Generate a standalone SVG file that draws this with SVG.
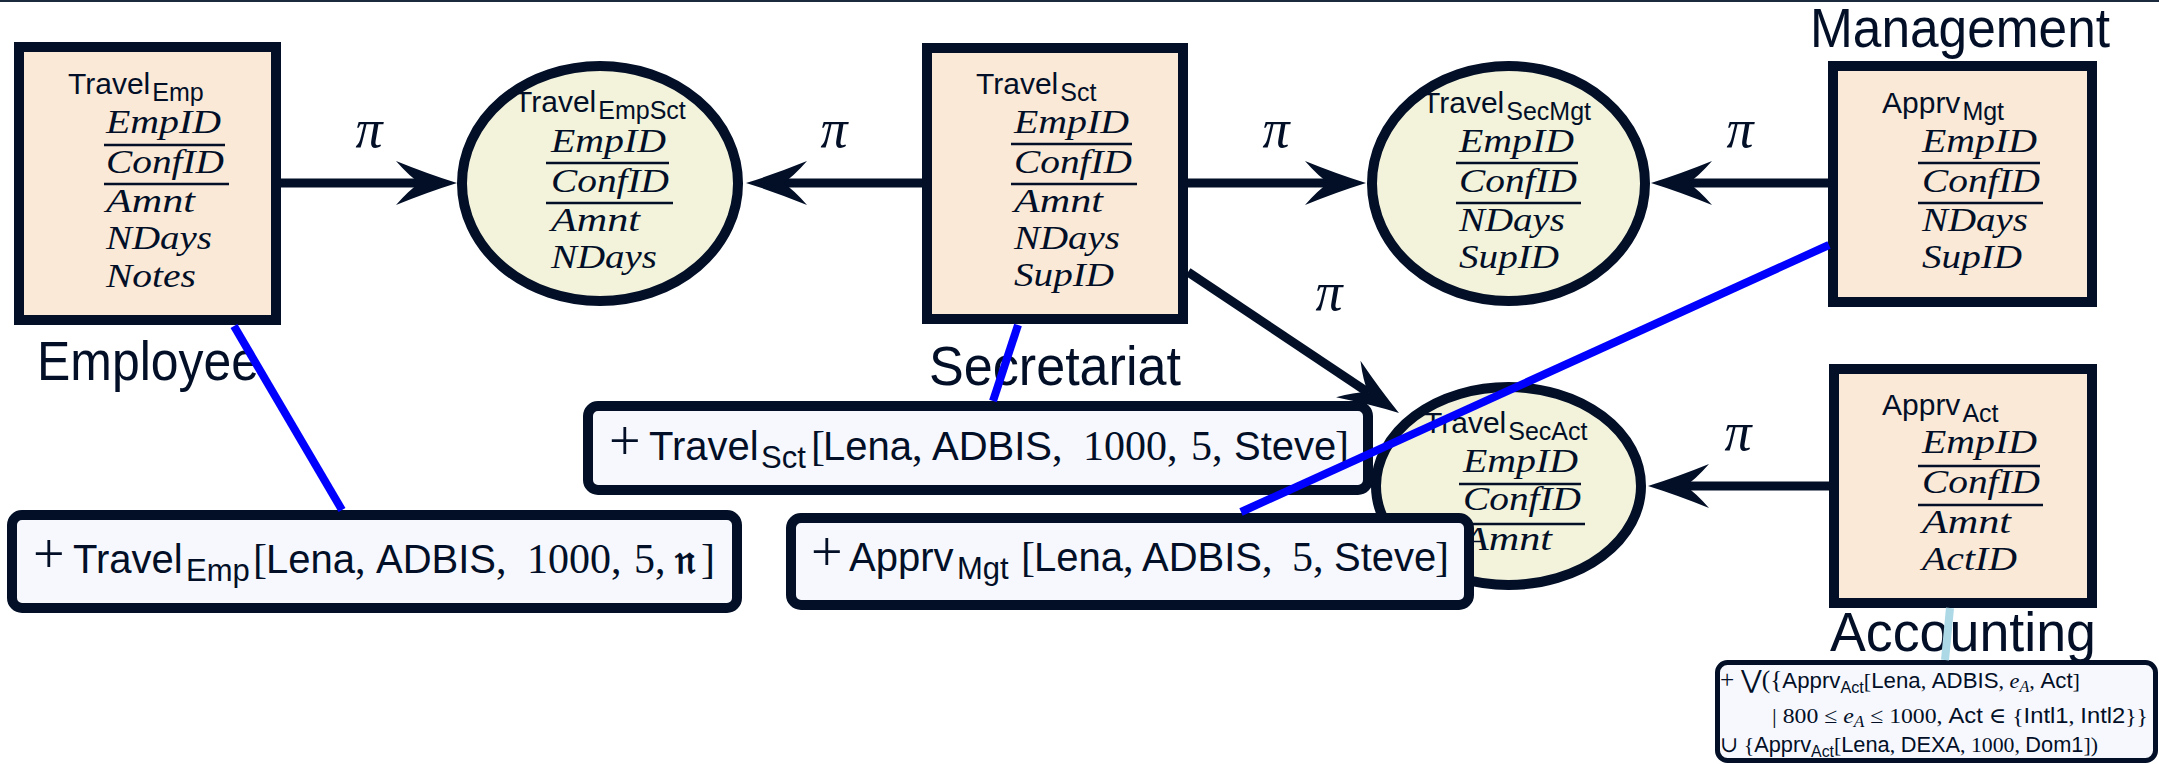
<svg xmlns="http://www.w3.org/2000/svg" width="2159" height="764" viewBox="0 0 2159 764">
<style>
text{fill:#020f27}
.ttl{font-family:"Liberation Sans",Arial,sans-serif;font-size:30px}
.sub{font-size:25px}
.att{font-family:"Liberation Serif","Times New Roman",serif;font-style:italic;font-size:33px}
.lbl{font-family:"Liberation Sans",Arial,sans-serif;font-size:55px}
.pi{font-family:"Liberation Serif","DejaVu Serif",serif;font-style:italic;font-size:54px;text-anchor:middle}
.fact{font-family:"Liberation Sans",Arial,sans-serif;font-size:40px}
.fsub{font-size:31px}
.m{font-family:"Liberation Serif","DejaVu Serif",serif;font-style:normal}
.fm{font-family:"Liberation Serif","DejaVu Serif",serif;font-size:42px}
.plus{font-family:"Liberation Serif","DejaVu Serif",serif;font-size:56px}
.frak{font-family:"DejaVu Serif","DejaVu Sans","Noto Sans",serif;font-weight:bold;font-size:40px}
.fx{font-family:"Liberation Sans",Arial,sans-serif;font-size:22px}
.fxs{font-size:16px}
.mi{font-family:"Liberation Serif","DejaVu Serif",serif;font-style:italic}
.box{fill:#fae9d7;stroke:#020f27;stroke-width:10}
.ell{fill:#f3f3dc;stroke:#020f27;stroke-width:10}
.fbox{fill:#f7f8fd;stroke:#020f27;stroke-width:10}
.ul{stroke:#020f27;stroke-width:2.5}
.arr{stroke:#020f27;stroke-width:9;fill:none;marker-end:url(#ah)}
.blue{stroke:#0000ff;stroke-width:8}
.lblue{stroke:#add8e6;stroke-width:8}
</style>
<defs>
<marker id="ah" markerUnits="userSpaceOnUse" viewBox="-30 -30 72 60" markerWidth="72" markerHeight="60" refX="0" refY="0" orient="auto" overflow="visible">
<path d="M37,0 Q8,-9 -24,-22 Q-10,-6 0,0 Q-10,6 -24,22 Q8,9 37,0 Z" fill="#020f27"/>
</marker>
</defs>
<rect x="0" y="0" width="2159" height="2" fill="#1b2b3d"/>

<g id="travel-emp">
<rect class="box" x="19" y="47" width="257" height="273"/>
<text class="ttl" x="68" y="94">Travel<tspan class="sub" dx="2" dy="7">Emp</tspan></text>
<text class="att" x="106" y="133" textLength="115" lengthAdjust="spacingAndGlyphs">EmpID</text>
<line class="ul" x1="104" y1="145" x2="225" y2="145"/>
<text class="att" x="106" y="173" textLength="118" lengthAdjust="spacingAndGlyphs">ConfID</text>
<line class="ul" x1="104" y1="184" x2="229" y2="184"/>
<text class="att" x="106" y="212" textLength="89" lengthAdjust="spacingAndGlyphs">Amnt</text>
<text class="att" x="106" y="249" textLength="106" lengthAdjust="spacingAndGlyphs">NDays</text>
<text class="att" x="106" y="287" textLength="90" lengthAdjust="spacingAndGlyphs">Notes</text>
<text class="lbl" x="37" y="380" textLength="222" lengthAdjust="spacingAndGlyphs">Employee</text>
</g>

<g id="travel-empsct">
<ellipse class="ell" cx="600" cy="183.5" rx="138" ry="117.5"/>
<text class="ttl" x="514" y="112">Travel<tspan class="sub" dx="2" dy="7">EmpSct</tspan></text>
<text class="att" x="551" y="152" textLength="115" lengthAdjust="spacingAndGlyphs">EmpID</text>
<line class="ul" x1="546" y1="163" x2="669" y2="163"/>
<text class="att" x="551" y="192" textLength="118" lengthAdjust="spacingAndGlyphs">ConfID</text>
<line class="ul" x1="546" y1="203" x2="673" y2="203"/>
<text class="att" x="551" y="231" textLength="89" lengthAdjust="spacingAndGlyphs">Amnt</text>
<text class="att" x="551" y="268" textLength="106" lengthAdjust="spacingAndGlyphs">NDays</text>
</g>

<g id="travel-sct">
<rect class="box" x="927" y="48" width="256" height="271"/>
<text class="ttl" x="976" y="94">Travel<tspan class="sub" dx="2" dy="7">Sct</tspan></text>
<text class="att" x="1014" y="133" textLength="115" lengthAdjust="spacingAndGlyphs">EmpID</text>
<line class="ul" x1="1011" y1="144" x2="1132" y2="144"/>
<text class="att" x="1014" y="173" textLength="118" lengthAdjust="spacingAndGlyphs">ConfID</text>
<line class="ul" x1="1011" y1="184" x2="1137" y2="184"/>
<text class="att" x="1014" y="212" textLength="89" lengthAdjust="spacingAndGlyphs">Amnt</text>
<text class="att" x="1014" y="249" textLength="106" lengthAdjust="spacingAndGlyphs">NDays</text>
<text class="att" x="1014" y="286" textLength="100" lengthAdjust="spacingAndGlyphs">SupID</text>
<text class="lbl" x="929" y="385" textLength="252" lengthAdjust="spacingAndGlyphs">Secretariat</text>
</g>

<g id="travel-secmgt">
<ellipse class="ell" cx="1508.5" cy="183.5" rx="136.5" ry="117.5"/>
<text class="ttl" x="1422" y="113">Travel<tspan class="sub" dx="2" dy="7">SecMgt</tspan></text>
<text class="att" x="1459" y="152" textLength="115" lengthAdjust="spacingAndGlyphs">EmpID</text>
<line class="ul" x1="1456" y1="163" x2="1578" y2="163"/>
<text class="att" x="1459" y="192" textLength="118" lengthAdjust="spacingAndGlyphs">ConfID</text>
<line class="ul" x1="1456" y1="203" x2="1581" y2="203"/>
<text class="att" x="1459" y="231" textLength="106" lengthAdjust="spacingAndGlyphs">NDays</text>
<text class="att" x="1459" y="268" textLength="100" lengthAdjust="spacingAndGlyphs">SupID</text>
</g>

<g id="apprv-mgt">
<rect class="box" x="1833" y="66" width="259" height="236"/>
<text class="ttl" x="1882" y="113">Apprv<tspan class="sub" dx="2" dy="7">Mgt</tspan></text>
<text class="att" x="1922" y="152" textLength="115" lengthAdjust="spacingAndGlyphs">EmpID</text>
<line class="ul" x1="1918" y1="163" x2="2040" y2="163"/>
<text class="att" x="1922" y="192" textLength="118" lengthAdjust="spacingAndGlyphs">ConfID</text>
<line class="ul" x1="1918" y1="203" x2="2043" y2="203"/>
<text class="att" x="1922" y="231" textLength="106" lengthAdjust="spacingAndGlyphs">NDays</text>
<text class="att" x="1922" y="268" textLength="100" lengthAdjust="spacingAndGlyphs">SupID</text>
<text class="lbl" x="1810" y="47" textLength="300" lengthAdjust="spacingAndGlyphs">Management</text>
</g>

<g id="travel-secact">
<ellipse class="ell" cx="1508.5" cy="486" rx="132.5" ry="99"/>
<text class="ttl" x="1424" y="433">Travel<tspan class="sub" dx="2" dy="7">SecAct</tspan></text>
<text class="att" x="1463" y="472" textLength="115" lengthAdjust="spacingAndGlyphs">EmpID</text>
<line class="ul" x1="1459" y1="484" x2="1581" y2="484"/>
<text class="att" x="1463" y="510" textLength="118" lengthAdjust="spacingAndGlyphs">ConfID</text>
<line class="ul" x1="1459" y1="524" x2="1585" y2="524"/>
<text class="att" x="1463" y="550" textLength="89" lengthAdjust="spacingAndGlyphs">Amnt</text>
</g>

<g id="apprv-act">
<rect class="box" x="1834" y="369" width="258" height="234"/>
<text class="ttl" x="1882" y="415">Apprv<tspan class="sub" dx="2" dy="7">Act</tspan></text>
<text class="att" x="1922" y="453" textLength="115" lengthAdjust="spacingAndGlyphs">EmpID</text>
<line class="ul" x1="1918" y1="466" x2="2040" y2="466"/>
<text class="att" x="1922" y="493" textLength="118" lengthAdjust="spacingAndGlyphs">ConfID</text>
<line class="ul" x1="1918" y1="505" x2="2043" y2="505"/>
<text class="att" x="1922" y="533" textLength="89" lengthAdjust="spacingAndGlyphs">Amnt</text>
<text class="att" x="1922" y="570" textLength="95" lengthAdjust="spacingAndGlyphs">ActID</text>
<text class="lbl" x="1830" y="651" textLength="266" lengthAdjust="spacingAndGlyphs">Accounting</text>
</g>

<g id="fact-travel-emp">
<rect class="fbox" x="12" y="515" width="725" height="93" rx="10"/>
<text class="fact" y="573"><tspan class="plus" x="33">+</tspan><tspan x="73">Travel</tspan><tspan class="fsub" x="186" dy="8">Emp</tspan><tspan class="fm" x="253" dy="-8">[</tspan><tspan x="266">Lena</tspan><tspan class="fm">,</tspan><tspan x="376">ADBIS</tspan><tspan class="fm">,</tspan><tspan class="fm" x="527">1000,</tspan><tspan class="fm" x="634">5,</tspan><tspan class="frak" x="675">𝔫</tspan><tspan class="fm" x="701">]</tspan></text>
</g>

<g id="fact-travel-sct">
<rect class="fbox" x="588" y="406" width="780" height="84" rx="10"/>
<text class="fact" y="460"><tspan class="plus" x="609">+</tspan><tspan x="649">Travel</tspan><tspan class="fsub" x="761" dy="8">Sct</tspan><tspan class="fm" x="811" dy="-8">[</tspan><tspan x="823">Lena</tspan><tspan class="fm">,</tspan><tspan x="932">ADBIS</tspan><tspan class="fm">,</tspan><tspan class="fm" x="1083">1000,</tspan><tspan class="fm" x="1191">5,</tspan><tspan x="1234">Steve</tspan><tspan class="fm" x="1335">]</tspan></text>
</g>

<g id="fact-apprv-mgt">
<rect class="fbox" x="791" y="518" width="678" height="87" rx="10"/>
<text class="fact" y="571"><tspan class="plus" x="811">+</tspan><tspan x="849">Apprv</tspan><tspan class="fsub" x="957" dy="8">Mgt</tspan><tspan class="fm" x="1021" dy="-8">[</tspan><tspan x="1034">Lena</tspan><tspan class="fm">,</tspan><tspan x="1142">ADBIS</tspan><tspan class="fm">,</tspan><tspan class="fm" x="1292">5,</tspan><tspan x="1334">Steve</tspan><tspan class="fm" x="1435">]</tspan></text>
</g>

<g id="fact-apprv-act">
<rect x="1717.5" y="662.5" width="438" height="98" rx="10" fill="#f7f8fd" stroke="#020f27" stroke-width="5"/>
<text class="fx" x="1720" y="688" textLength="360" lengthAdjust="spacingAndGlyphs"><tspan class="m" font-size="25">+ ⋁({</tspan>Apprv<tspan class="fxs" dy="5">Act</tspan><tspan class="m" dy="-5">[</tspan>Lena<tspan class="m">, </tspan>ADBIS<tspan class="m">, </tspan><tspan class="mi">e</tspan><tspan class="mi fxs" dy="4">A</tspan><tspan class="m" dy="-4">, </tspan>Act<tspan class="m">]</tspan></text>
<text class="fx" x="1772" y="723" textLength="376" lengthAdjust="spacingAndGlyphs"><tspan class="m">| 800 ≤ </tspan><tspan class="mi">e</tspan><tspan class="mi fxs" dy="4">A</tspan><tspan class="m" dy="-4"> ≤ 1000, </tspan>Act<tspan class="m"> ∈ {</tspan>Intl1<tspan class="m">, </tspan>Intl2<tspan class="m">}}</tspan></text>
<text class="fx" x="1720" y="752" textLength="378" lengthAdjust="spacingAndGlyphs"><tspan class="m">∪ {</tspan>Apprv<tspan class="fxs" dy="5">Act</tspan><tspan class="m" dy="-5">[</tspan>Lena<tspan class="m">, </tspan>DEXA<tspan class="m">, 1000, </tspan>Dom1<tspan class="m">])</tspan></text>
</g>

<g id="connectors">
<path class="arr" d="M281,183 H420"/>
<path class="arr" d="M922,183 H783"/>
<path class="arr" d="M1188,183 H1329"/>
<path class="arr" d="M1828,183 H1688"/>
<path class="arr" d="M1188,272 L1368.2,392.4"/>
<path class="arr" d="M1829,486 H1685"/>
<text class="pi" x="369" y="147">π</text>
<text class="pi" x="834" y="147">π</text>
<text class="pi" x="1276" y="147">π</text>
<text class="pi" x="1740" y="147">π</text>
<text class="pi" x="1329" y="310">π</text>
<text class="pi" x="1738" y="450">π</text>
<line class="blue" x1="234" y1="326" x2="342" y2="510"/>
<line class="blue" x1="1018" y1="325" x2="993" y2="401"/>
<line class="blue" x1="1829" y1="245" x2="1241" y2="512"/>
<line class="lblue" x1="1950" y1="608" x2="1945" y2="660"/>
</g>
</svg>
